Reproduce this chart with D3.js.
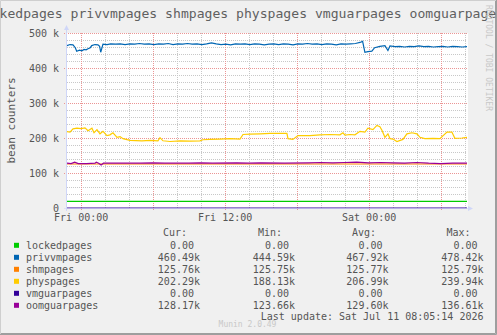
<!DOCTYPE html>
<html>
<head>
<meta charset="utf-8">
<script src="https://cdn.jsdelivr.net/npm/d3@7"></script>
<style>
    html, body { margin: 0; padding: 0; background: #f0f0f0; }
    svg { display: block; font-family: "DejaVu Sans Mono", monospace; }
    text { white-space: pre; }
</style>
</head>
<body>
<svg id="chart" width="497" height="335"></svg>
<script>
// series names and colours (munin palette)
const seriesNames = ["lockedpages", "privvmpages", "shmpages", "physpages", "vmguarpages", "oomguarpages"];
const seriesColors = ["#00cc00", "#0066b3", "#ff8000", "#ffcc00", "#330099", "#990099"];

// values as [hours since Fri 00:00, thousands]
const lockedpages = [[-1.14, 19], [32.2, 19]];
const privvmpages = [
    [-1.14, 464], [-0.89, 467], [-0.64, 466], [-0.45, 458], [-0.33, 448], [-0.1, 451], [0.1, 449], [0.28, 453],
    [0.45, 452], [0.61, 455], [0.8, 458], [0.92, 464], [1.19, 467], [1.44, 466], [1.58, 462], [1.67, 445],
    [1.78, 458], [1.86, 468], [2.2, 467], [2.5, 469], [2.9, 468], [3.3, 469], [3.7, 467], [4.1, 469],
    [4.5, 468], [4.9, 470], [5.3, 468], [5.7, 469], [6.1, 467], [6.5, 469], [6.9, 468], [7.3, 470],
    [7.7, 467], [8.1, 469], [8.5, 468], [8.9, 470], [9.3, 468], [9.7, 469], [10.1, 467], [10.5, 469],
    [10.9, 472], [11.3, 469], [11.7, 467], [12.1, 468], [12.5, 466], [12.9, 469], [13.3, 468], [13.7, 469],
    [14.1, 467], [14.5, 469], [14.9, 468], [15.3, 466], [15.7, 468], [16.1, 469], [16.5, 467], [16.9, 469],
    [17.3, 468], [17.7, 466], [18.1, 469], [18.5, 468], [18.9, 470], [19.3, 468], [19.7, 469], [20.1, 467],
    [20.5, 469], [20.9, 468], [21.3, 466], [21.7, 469], [22.1, 468], [22.5, 469], [22.9, 470], [23.28, 473],
    [23.5, 476], [23.69, 445], [23.94, 447], [24.27, 448], [24.5, 458], [24.94, 462], [25.36, 464], [25.61, 450],
    [25.78, 463], [26.2, 461], [26.6, 462], [27, 460], [27.4, 462], [27.8, 461], [28.2, 463], [28.6, 461],
    [29, 462], [29.4, 460], [29.8, 461], [30.2, 462], [30.6, 460], [31, 462], [31.4, 461], [31.8, 460], [32.2, 461]
];
const shmpages = [[-1.14, 125.76], [32.2, 125.76]];
const physpages = [
    [-1.14, 218], [-0.89, 217], [-0.64, 226], [-0.31, 228], [0.03, 227], [0.36, 229], [0.61, 221], [0.94, 228],
    [1.11, 215], [1.36, 224], [1.61, 212], [1.86, 219], [2.19, 207], [2.44, 209], [2.69, 215], [3.03, 202],
    [3.28, 204], [3.53, 198], [4.11, 193], [5.11, 192], [5.78, 193], [6.44, 192], [6.61, 201], [6.86, 192],
    [7.44, 190], [8.28, 192], [9.11, 191], [9.94, 192], [10.19, 195], [10.78, 196], [11.61, 197], [12.44, 198],
    [13.28, 197], [13.53, 210], [14.11, 211], [14.94, 212], [15.78, 213], [17.19, 213], [17.28, 198], [17.69, 196],
    [18.11, 207], [19.11, 207], [19.94, 209], [20.78, 210], [21.61, 209], [21.86, 215], [22.03, 208], [22.44, 210],
    [22.86, 209], [23.28, 219], [23.69, 217], [23.94, 228], [24.36, 224], [24.69, 236], [24.94, 232], [25.11, 222],
    [25.36, 202], [25.61, 212], [25.78, 198], [26.03, 197], [26.36, 190], [26.86, 196], [27.19, 212], [27.61, 215],
    [28.03, 212], [28.28, 202], [28.69, 198], [29.36, 199], [29.94, 198], [30.53, 217], [30.94, 217], [31.19, 199],
    [31.78, 200], [32.2, 202]
];
const vmguarpages = [[-1.14, 0], [32.2, 0]];
const oomguarpages = [
    [-1.14, 128], [-0.8, 127], [-0.5, 131], [-0.2, 127], [0.5, 127], [1.2, 128], [1.3, 131], [1.5, 128],
    [1.7, 123], [1.9, 128], [3, 128], [5, 128], [6, 129], [7, 128], [9, 128], [10, 129], [11, 128], [13, 129],
    [14, 128], [15, 129], [17, 128], [19, 129], [20, 130], [21, 129], [22, 130], [23, 131], [24, 129], [25, 130],
    [26, 129], [27, 128], [28, 130], [29, 128], [30, 127], [31, 128], [32.2, 128]
];
const seriesData = [lockedpages, privvmpages, shmpages, physpages, vmguarpages, oomguarpages];

// legend statistics
const curValues = ["0.00 ", "460.49k", "125.76k", "202.29k", "0.00 ", "128.17k"];
const minValues = ["0.00 ", "444.59k", "125.75k", "188.13k", "0.00 ", "123.66k"];
const avgValues = ["0.00 ", "467.92k", "125.77k", "206.99k", "0.00 ", "129.60k"];
const maxValues = ["0.00 ", "478.42k", "125.79k", "239.94k", "0.00 ", "136.61k"];
const statHeaders = ["Cur:", "Min:", "Avg:", "Max:"];

const yMajorTicks = [0, 100, 200, 300, 400, 500];

const W = 497, H = 335;
const pLeft = 67, pRight = 467, pTop = 33, pBottom = 208;
const FRI0 = Date.UTC(2026, 6, 10);
const toDate = (t) => new Date(FRI0 + t * 3600e3);

const svg = d3.select("#chart");

// frame
svg.append("rect").attr("width", W).attr("height", H).attr("fill", "#f0f0f0");
svg.append("path").attr("d", `M0.5,${H}V0.5H${W}`).attr("fill", "none").attr("stroke", "#cfcfcf");
svg.append("path").attr("d", `M0,${H - 0.5}H${W - 0.5}V0`).attr("fill", "none").attr("stroke", "#9e9e9e");
svg.append("path").attr("d", `M1,${H - 1.5}H${W - 1.5}V1`).attr("fill", "none").attr("stroke", "#9e9e9e");
svg.append("rect").attr("x", pLeft).attr("y", pTop).attr("width", pRight - pLeft + 1).attr("height", pBottom - pTop)
    .attr("fill", "#ffffff");

const x = d3.scaleUtc().domain([toDate(-1.14), toDate(32.2)]).range([pLeft, pRight]);
const y = d3.scaleLinear().domain([0, 500]).range([pBottom, pTop]);

const grid = svg.append("g");

// minor grid
const minorX = x.ticks(d3.utcHour.every(2)).filter(d => d.getUTCHours() % 6 !== 0);
grid.selectAll("line.vminor").data(minorX).join("line")
    .attr("x1", d => Math.round(x(d)) + 0.5).attr("x2", d => Math.round(x(d)) + 0.5)
    .attr("y1", pTop).attr("y2", pBottom)
    .attr("stroke", "#c8c8c8").attr("stroke-dasharray", "1,1");
const minorY = d3.range(20, 501, 20).filter(v => v % 100 !== 0);
grid.selectAll("line.hminor").data(minorY).join("line")
    .attr("x1", pLeft).attr("x2", pRight)
    .attr("y1", d => Math.round(y(d)) + 0.5).attr("y2", d => Math.round(y(d)) + 0.5)
    .attr("stroke", "#c8c8c8").attr("stroke-dasharray", "1,1");

// major grid
const majorX = x.ticks(d3.utcHour.every(6));
grid.selectAll("line.vmajor").data(majorX).join("line")
    .attr("x1", d => Math.round(x(d)) + 0.5).attr("x2", d => Math.round(x(d)) + 0.5)
    .attr("y1", pTop).attr("y2", pBottom + 3)
    .attr("stroke", "#eb9595").attr("stroke-dasharray", "1,1");
grid.selectAll("line.hmajor").data(yMajorTicks.filter(v => v > 0)).join("line")
    .attr("x1", pLeft - 3).attr("x2", pRight)
    .attr("y1", d => Math.round(y(d)) + 0.5).attr("y2", d => Math.round(y(d)) + 0.5)
    .attr("stroke", "#eb9595").attr("stroke-dasharray", "1,1");

// series
const line = d3.line().x(d => x(toDate(d[0]))).y(d => y(d[1]));
svg.append("g").selectAll("path").data(seriesData).join("path")
    .attr("d", line)
    .attr("fill", "none")
    .attr("stroke", (d, i) => seriesColors[i])
    .attr("stroke-width", 1.2);

// axes lines + arrows (drawn over the zero line, as rrdtool does)
const axisColor = "#cfd6f8";
svg.append("line").attr("x1", pLeft - 0.5).attr("x2", pLeft - 0.5).attr("y1", pBottom + 3).attr("y2", pTop - 5)
    .attr("stroke", axisColor);
svg.append("line").attr("x1", pLeft - 3).attr("x2", pRight + 3).attr("y1", pBottom + 0.5).attr("y2", pBottom + 0.5)
    .attr("stroke", axisColor).attr("stroke-opacity", 0.6);
svg.append("path").attr("d", `M${pLeft - 0.5},${pTop - 8}L${pLeft + 2},${pTop - 3}L${pLeft - 3},${pTop - 3}Z`)
    .attr("fill", axisColor);
svg.append("path").attr("d", `M${pRight + 6},${pBottom + 0.5}L${pRight + 1},${pBottom - 2}L${pRight + 1},${pBottom + 3}Z`)
    .attr("fill", axisColor);

// tick labels
const xLabels = x.ticks(d3.utcHour.every(12));
const xAxis = svg.append("g").attr("transform", `translate(0,${pBottom})`)
    .call(d3.axisBottom(x).tickValues(xLabels).tickFormat(d3.utcFormat("%a %H:%M")).tickSize(0).tickPadding(6));
const yAxis = svg.append("g").attr("transform", `translate(${pLeft},0)`)
    .call(d3.axisLeft(y).tickValues(yMajorTicks).tickFormat(v => v === 0 ? "0" : v + " k").tickSize(0).tickPadding(8));
[xAxis, yAxis].forEach(a => {
    a.select(".domain").remove();
    a.attr("font-family", null).attr("font-size", 10);
    a.selectAll("text").attr("fill", "#555");
});

// title and side texts
svg.append("text").attr("x", 240).attr("y", 18).attr("text-anchor", "middle")
    .attr("font-size", 13.1).attr("fill", "#606060")
    .text(seriesNames.join(" "));
svg.append("text").attr("transform", `translate(15,${(pTop + pBottom) / 2}) rotate(-90)`)
    .attr("text-anchor", "middle").attr("font-size", 11).attr("fill", "#555")
    .text("bean counters");
svg.append("text").attr("transform", `translate(486,5) rotate(90)`)
    .attr("font-size", 8).attr("fill", "#c8c8c8")
    .text("RRDTOOL / TOBI OETIKER");

// legend
const legend = svg.append("g").attr("font-size", 10).attr("fill", "#555");
const headerX = [163, 258, 352, 446.5];
legend.selectAll("text.head").data(statHeaders).join("text")
    .attr("x", (d, i) => headerX[i]).attr("y", 236).text(d => d);

const rowY = (i) => 249.3 + i * 12;
legend.selectAll("rect").data(seriesNames).join("rect")
    .attr("x", 14).attr("y", (d, i) => rowY(i) - 6.5).attr("width", 5).attr("height", 5)
    .attr("fill", (d, i) => seriesColors[i]);
legend.selectAll("text.name").data(seriesNames).join("text")
    .attr("x", 26).attr("y", (d, i) => rowY(i)).text(d => d);

const colEnds = [200, 295, 388.5, 483.5];
[curValues, minValues, avgValues, maxValues].forEach((col, c) => {
    legend.append("g").selectAll("text").data(col).join("text")
        .attr("x", colEnds[c]).attr("y", (d, i) => rowY(i)).attr("text-anchor", "end")
        .text(d => d);
});

legend.append("text").attr("x", 483.5).attr("y", 320.3).attr("text-anchor", "end")
    .text("Last update: Sat Jul 11 08:05:14 2026");
svg.append("text").attr("x", 247.5).attr("y", 327).attr("text-anchor", "middle")
    .attr("font-size", 8).attr("fill", "#c8c8c8")
    .text("Munin 2.0.49");
</script>
</body>
</html>
